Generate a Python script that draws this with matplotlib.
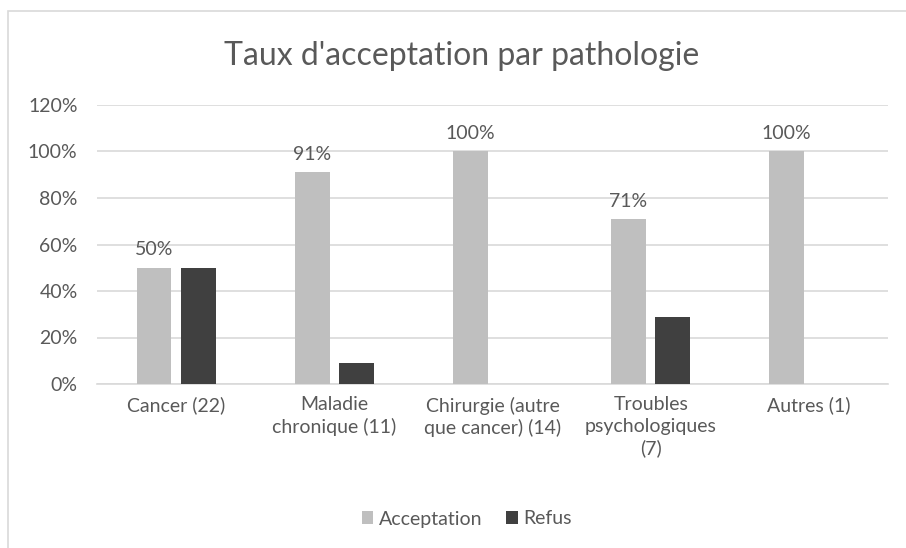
import numpy as np
import matplotlib
matplotlib.use('Agg')
import matplotlib.pyplot as plt
from matplotlib.patches import Rectangle

# Data
categories = ['Cancer (22)', 'Maladie\nchronique (11)', 'Chirurgie (autre\nque cancer) (14)',
              'Troubles\npsychologiques\n(7)', 'Autres (1)']
acceptation = [50, 91, 100, 71, 100]
refus = [50, 9, 0, 29, 0]
yticks = [0, 20, 40, 60, 80, 100, 120]

plt.rcParams['font.family'] = ['Lato', 'DejaVu Sans']
txt = '#595959'
fs = 14

fig = plt.figure(figsize=(9.06, 5.48), dpi=100)
ax = fig.add_axes([97 / 906, 1 - 384 / 548, 791 / 906, 279 / 548])

# chart border
fig.patches.append(Rectangle((8 / 906, -0.01), 1.0, 1 - 11 / 548 + 0.01, transform=fig.transFigure,
                             fill=False, edgecolor='#d9d9d9', linewidth=1.2))

x = np.arange(len(categories))
w = 0.22
off = 0.14
b1 = ax.bar(x - off, acceptation, w, color='#bfbfbf', label='Acceptation', zorder=3)
b2 = ax.bar(x + off, refus, w, color='#404040', label='Refus', zorder=3)

for rect, v in zip(b1, acceptation):
    ax.text(rect.get_x() + rect.get_width() / 2, v + 4, f'{v}%', ha='center', va='bottom',
            fontsize=fs, color=txt)

ax.set_xlim(-0.5, len(categories) - 0.5)
ax.set_ylim(0, 120)
ax.set_yticks(yticks)
ax.set_yticklabels([f'{t}%' for t in yticks])
ax.set_xticks(x)
ax.set_xticklabels(categories, linespacing=1.3)
ax.tick_params(axis='both', length=0, labelsize=fs, labelcolor=txt)
ax.tick_params(axis='y', pad=14)
ax.tick_params(axis='x', pad=9)
ax.yaxis.grid(True, color='#d9d9d9', linewidth=1.2, zorder=0)
for s in ax.spines.values():
    s.set_visible(False)
ax.spines['bottom'].set_visible(True)
ax.spines['bottom'].set_color('#d9d9d9')
ax.spines['bottom'].set_linewidth(1.2)

fig.text(462 / 906, 1 - 56 / 548, "Taux d'acceptation par pathologie", ha='center', va='center',
         fontsize=23, color=txt)

fig.legend(handles=[b1, b2], loc='center', bbox_to_anchor=(467 / 906, 1 - 519 / 548), ncol=2,
           frameon=False, fontsize=fs, handlelength=0.6, handleheight=0.6, handletextpad=0.3,
           columnspacing=1.2, labelcolor=txt)

fig.savefig('out.png', dpi=100)
